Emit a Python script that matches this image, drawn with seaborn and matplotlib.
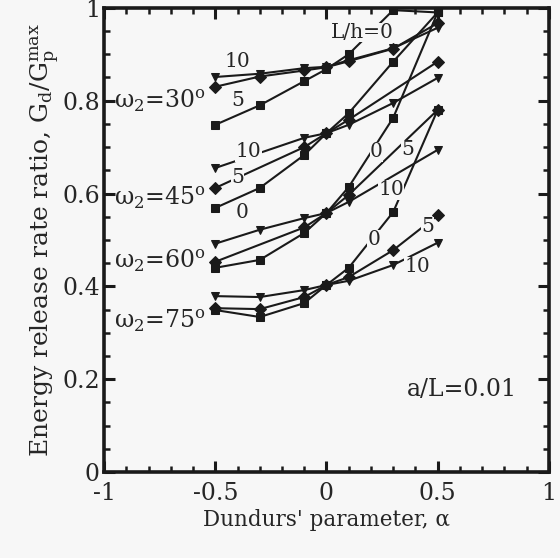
import matplotlib
matplotlib.use("Agg")
import matplotlib.pyplot as plt
import seaborn as sns
import pandas as pd
import numpy as np
from matplotlib.ticker import MultipleLocator

# ---- data ----
alpha_full = [-0.5, -0.3, -0.1, 0.0, 0.1, 0.3, 0.5]

# omega2 = 30 deg
w30_lh0 = [0.748, 0.790, 0.842, 0.868, 0.900, 0.995, 0.990]
w30_lh5 = [0.830, 0.852, 0.865, 0.872, 0.885, 0.912, 0.967]
w30_lh10 = [0.851, 0.858, 0.870, 0.873, 0.887, 0.913, 0.957]

# omega2 = 45 deg
w45_lh0_x = [-0.5, -0.3, -0.1, 0.0, 0.1, 0.3, 0.5]
w45_lh0 = [0.569, 0.612, 0.683, 0.730, 0.773, 0.884, 0.990]
w45_lh5_x = [-0.5, -0.1, 0.0, 0.1, 0.5]
w45_lh5 = [0.612, 0.700, 0.730, 0.759, 0.884]
w45_lh10_x = [-0.5, -0.1, 0.0, 0.1, 0.3, 0.5]
w45_lh10 = [0.655, 0.720, 0.730, 0.748, 0.795, 0.849]

# omega2 = 60 deg
w60_lh0_x = [-0.5, -0.3, -0.1, 0.0, 0.1, 0.3, 0.5]
w60_lh0 = [0.440, 0.457, 0.515, 0.558, 0.614, 0.763, 0.990]
w60_lh5_x = [-0.5, -0.1, 0.0, 0.1, 0.5]
w60_lh5 = [0.453, 0.527, 0.558, 0.597, 0.780]
w60_lh10_x = [-0.5, -0.3, -0.1, 0.0, 0.1, 0.5]
w60_lh10 = [0.492, 0.522, 0.547, 0.558, 0.582, 0.694]

# omega2 = 75 deg
w75_lh0 = [0.349, 0.334, 0.364, 0.403, 0.440, 0.560, 0.780]
w75_lh5 = [0.353, 0.351, 0.377, 0.403, 0.420, 0.478, 0.553]
w75_lh10 = [0.379, 0.377, 0.392, 0.403, 0.412, 0.446, 0.494]

series = [
    ("30", "0", alpha_full, w30_lh0), ("30", "5", alpha_full, w30_lh5), ("30", "10", alpha_full, w30_lh10),
    ("45", "0", w45_lh0_x, w45_lh0), ("45", "5", w45_lh5_x, w45_lh5), ("45", "10", w45_lh10_x, w45_lh10),
    ("60", "0", w60_lh0_x, w60_lh0), ("60", "5", w60_lh5_x, w60_lh5), ("60", "10", w60_lh10_x, w60_lh10),
    ("75", "0", alpha_full, w75_lh0), ("75", "5", alpha_full, w75_lh5), ("75", "10", alpha_full, w75_lh10),
]
rows = []
for om, lh, xs, ys in series:
    for x, y in zip(xs, ys):
        rows.append({"omega": om, "Lh": lh, "alpha": x, "ratio": y, "uid": om + "_" + lh})
df = pd.DataFrame(rows)

omega_labels = ["30", "45", "60", "75"]
omega_label_y = [0.800, 0.590, 0.455, 0.325]

bg = "#f7f7f7"
sns.set_theme(style="ticks")
plt.rcParams["font.family"] = ["DejaVu Serif"]
plt.rcParams["mathtext.fontset"] = "dejavuserif"

fig = plt.figure(figsize=(5.6, 5.58), dpi=100, facecolor=bg)
ax = fig.add_axes([0.186, 0.154, 0.794, 0.832], facecolor=bg)

sns.lineplot(data=df, x="alpha", y="ratio", style="Lh", units="uid", estimator=None,
             markers={"0": "s", "5": "D", "10": "v"}, dashes=False, color="k",
             sort=False, legend=False, ax=ax, linewidth=1.5, markersize=6,
             markeredgecolor="k", clip_on=True)

ax.set_xlim(-1, 1)
ax.set_ylim(0, 1)
ax.xaxis.set_minor_locator(MultipleLocator(0.1))
ax.yaxis.set_minor_locator(MultipleLocator(0.05))
ax.set_xticks([-1, -0.5, 0, 0.5, 1])
ax.set_xticklabels(["-1", "-0.5", "0", "0.5", "1"])
ax.set_yticks([0, 0.2, 0.4, 0.6, 0.8, 1])
ax.set_yticklabels(["0", "0.2", "0.4", "0.6", "0.8", "1"])
ax.tick_params(which="both", direction="in", top=True, right=True, color="k")
ax.tick_params(which="major", length=8, width=2.2, labelsize=17, pad=3)
ax.tick_params(which="minor", length=4, width=1.8)
ax.tick_params(axis="x", which="major", pad=7)
for s in ax.spines.values():
    s.set_linewidth(2.6)
    s.set_color("k")

ax.set_xlabel("Dundurs' parameter, α", fontsize=15.5, labelpad=3)
ax.set_ylabel("Energy release rate ratio, G$_{\\rm d}$/G$_{\\rm p}^{\\rm max}$", fontsize=18, labelpad=0)

tkw = dict(fontsize=14.5, ha="center", va="center",
           bbox=dict(facecolor=bg, edgecolor="none", pad=0.3))
for om, yy in zip(omega_labels, omega_label_y):
    ax.text(-0.955, yy, "ω$_{\\rm 2}$=" + om + "$^{\\rm o}$", fontsize=17, ha="left", va="center")

ax.text(0.16, 0.947, "L/h=0", **tkw)
ax.text(-0.40, 0.885, "10", **tkw)
ax.text(-0.40, 0.800, "5", **tkw)
ax.text(-0.35, 0.690, "10", **tkw)
ax.text(-0.40, 0.634, "5", **tkw)
ax.text(-0.38, 0.560, "0", **tkw)
ax.text(0.225, 0.690, "0", **tkw)
ax.text(0.365, 0.694, "5", **tkw)
ax.text(0.29, 0.608, "10", **tkw)
ax.text(0.215, 0.500, "0", **tkw)
ax.text(0.455, 0.528, "5", **tkw)
ax.text(0.41, 0.442, "10", **tkw)
ax.text(0.61, 0.178, "a/L=0.01", fontsize=17, ha="center", va="center")

fig.savefig("out.png", dpi=100, facecolor=bg)
